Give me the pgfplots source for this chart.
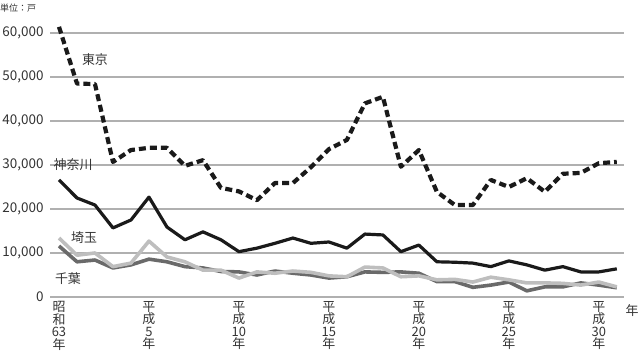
\documentclass[border=0pt]{standalone}
\usepackage{fontspec}
\setmainfont{Noto Sans CJK JP}
\usepackage{pgfplots}
\pgfplotsset{compat=1.18}
\definecolor{txt}{HTML}{333333}
\definecolor{gridc}{HTML}{B0B0B0}
\definecolor{tokyo}{HTML}{1A1A1A}
\definecolor{kana}{HTML}{1A1A1A}
\definecolor{sai}{HTML}{BEBEBE}
\definecolor{chiba}{HTML}{6A6A6A}
\begin{document}
\begin{tikzpicture}
\begin{axis}[
  scale only axis,
  width=574bp, height=272.8bp,
  xmin=-0.5, xmax=31.4,
  ymin=0, ymax=62000,
  axis line style={draw opacity=0},
  scaled y ticks=false,
  ytick={0,10000,20000,30000,40000,50000,60000},
  xtick={0,5,10,15,20,25,30},
  xticklabels={{昭\\和\\63\\年},{平\\成\\5\\年},{平\\成\\10\\年},{平\\成\\15\\年},{平\\成\\20\\年},{平\\成\\25\\年},{平\\成\\30\\年}},
  xticklabel style={align=center, anchor=north, font={\fontsize{13}{12.5}\selectfont}, text=txt, yshift=-1bp},
  yticklabel style={font={\fontsize{13.5}{14}\selectfont}, text=txt, xshift=-3bp},
  /pgf/number format/assume math mode=true,
  /pgf/number format/1000 sep={,},
  major tick length=0pt,
  clip=false,
]
\addplot[color=gridc, line width=1.2bp, forget plot] coordinates {(-0.5,0)(31.4,0)};
\addplot[color=gridc, line width=1.2bp, forget plot] coordinates {(-0.5,10000)(31.4,10000)};
\addplot[color=gridc, line width=1.2bp, forget plot] coordinates {(-0.5,20000)(31.4,20000)};
\addplot[color=gridc, line width=1.2bp, forget plot] coordinates {(-0.5,30000)(31.4,30000)};
\addplot[color=gridc, line width=1.2bp, forget plot] coordinates {(-0.5,40000)(31.4,40000)};
\addplot[color=gridc, line width=1.2bp, forget plot] coordinates {(-0.5,50000)(31.4,50000)};
\addplot[color=gridc, line width=1.2bp, forget plot] coordinates {(-0.5,60000)(31.4,60000)};
\addplot[color=chiba, line width=3.6bp, line join=round] coordinates {
(0,11600)(1,8000)(2,8400)(3,6600)(4,7300)(5,8600)(6,8000)(7,6900)(8,6600)(9,5800)
(10,5700)(11,5000)(12,5900)(13,5400)(14,5000)(15,4300)(16,4600)(17,5700)(18,5600)(19,5700)
(20,5400)(21,3500)(22,3500)(23,2200)(24,2700)(25,3400)(26,1400)(27,2300)(28,2300)(29,3200)
(30,2700)(31,2100)};
\addplot[color=sai, line width=3.6bp, line join=round] coordinates {
(0,13400)(1,9500)(2,10000)(3,6900)(4,7700)(5,12700)(6,9100)(7,8000)(8,6100)(9,6100)
(10,4300)(11,5700)(12,5400)(13,5900)(14,5600)(15,4800)(16,4600)(17,6800)(18,6600)(19,4600)
(20,4800)(21,3900)(22,4000)(23,3400)(24,4500)(25,3900)(26,3200)(27,3200)(28,3100)(29,2700)
(30,3400)(31,2300)};
\addplot[color=kana, line width=3.2bp, line join=round] coordinates {
(0,26600)(1,22500)(2,20900)(3,15700)(4,17500)(5,22700)(6,15900)(7,13000)(8,14800)(9,13000)
(10,10300)(11,11100)(12,12200)(13,13400)(14,12200)(15,12500)(16,11100)(17,14300)(18,14100)(19,10300)
(20,11800)(21,8000)(22,7900)(23,7700)(24,6900)(25,8200)(26,7300)(27,6100)(28,6900)(29,5700)
(30,5700)(31,6400)};
\addplot[color=tokyo, line width=4.2bp, dash pattern=on 7bp off 4bp, line join=round] coordinates {
(0,61400)(1,48500)(2,48400)(3,30700)(4,33400)(5,33900)(6,33900)(7,29800)(8,31100)(9,24800)
(10,24000)(11,22000)(12,25900)(13,25900)(14,29500)(15,33600)(16,35700)(17,44000)(18,45500)(19,29600)
(20,33400)(21,23900)(22,20900)(23,20900)(24,26600)(25,25000)(26,27000)(27,23900)(28,28000)(29,28200)
(30,30400)(31,30700)};
\node[text=txt, font={\fontsize{13}{14}\selectfont}] at (axis cs:2.0,53900) {東京};
\node[text=txt, font={\fontsize{13}{14}\selectfont}] at (axis cs:0.78,30000) {神奈川};
\node[text=txt, font={\fontsize{13}{14}\selectfont}] at (axis cs:1.4,13600) {埼玉};
\node[text=txt, font={\fontsize{13}{14}\selectfont}] at (axis cs:0.5,4100) {千葉};
\end{axis}
\node[text=txt, font={\fontsize{13}{14}\selectfont}, anchor=center] at ([shift={(8bp,-14bp)}]current axis.south east) {年};
\node[text=txt, font={\fontsize{9}{10}\selectfont}, anchor=west, inner sep=0pt] at ([shift={(-50bp,16bp)}]current axis.north west) {単位：戸};
\pgfresetboundingbox
\path ([shift={(-50bp,-62bp)}]current axis.south west) rectangle ([shift={(16bp,24.2bp)}]current axis.north east);
\end{tikzpicture}
\end{document}
